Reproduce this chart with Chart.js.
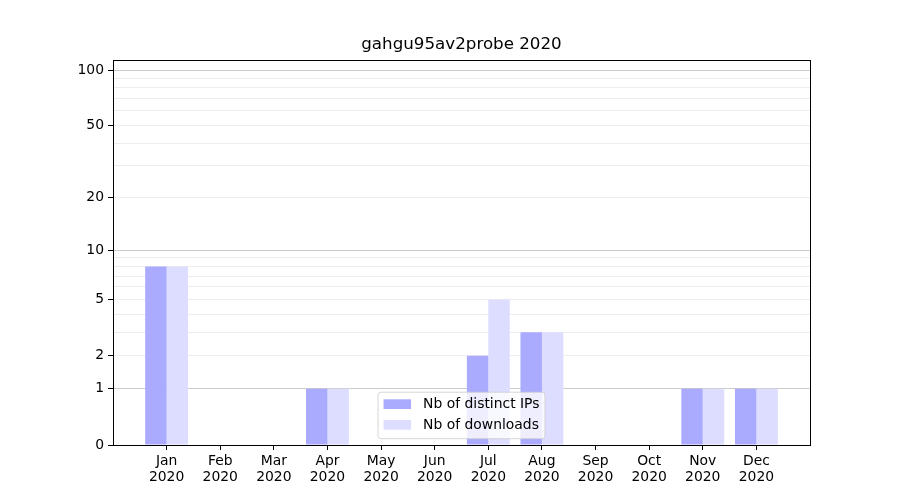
<!DOCTYPE html>
<html>
<head>
<meta charset="utf-8">
<script src="https://cdn.jsdelivr.net/npm/chart.js@4/dist/chart.umd.min.js"></script>
<style>
  html, body { margin: 0; padding: 0; background: #fff; }
  #wrap { width: 900px; height: 500px; }
</style>
</head>
<body>
<div id="wrap"><canvas id="c" width="900" height="500"></canvas></div>
<script>
// ---- data ----
const chartTitle = 'gahgu95av2probe 2020';
const months = ['Jan','Feb','Mar','Apr','May','Jun','Jul','Aug','Sep','Oct','Nov','Dec'];
const year = '2020';
const distinctIPs = [8, 0, 0, 1, 0, 0, 2, 3, 0, 0, 1, 1];
const downloads   = [8, 0, 0, 1, 0, 0, 5, 3, 0, 0, 1, 1];
const labeledTicks = [0, 1, 2, 5, 10, 20, 50, 100];
const majorGrid = [1, 10, 100];
const minorGrid = [2, 3, 4, 5, 6, 7, 8, 9, 20, 30, 40, 50, 60, 70, 80, 90];
const yMaxRaw = 113.2;

const tf = v => Math.log10(1 + v);
const allYTicks = [0].concat(majorGrid, minorGrid).sort((a, b) => a - b);

const FONT = 'DejaVu Sans';
Chart.defaults.color = '#000';
Chart.defaults.font.family = FONT;

const frame = {
  id: 'frame',
  afterDatasetsDraw(chart) {
    const a = chart.chartArea, ctx = chart.ctx;
    ctx.save();
    ctx.strokeStyle = '#000';
    ctx.lineWidth = 1;
    ctx.strokeRect(Math.round(a.left) + 0.5, Math.round(a.top) + 0.5,
                   Math.round(a.right - a.left), Math.round(a.bottom - a.top));
    ctx.restore();
  },
  afterDraw(chart) {
    const a = chart.chartArea, ctx = chart.ctx;
    const ds = chart.data.datasets;
    ctx.save();
    ctx.font = '13.9px "' + FONT + '"';
    let tw = 0;
    ds.forEach(d => { tw = Math.max(tw, ctx.measureText(d.label).width); });
    const w = 5.5 + 27.5 + 12 + tw + 5.5;
    const h = 46.5;
    const cx = (a.left + a.right) / 2;
    const x0 = cx - w / 2, y0 = a.bottom - 6.3 - h;
    const r = 3;
    ctx.beginPath();
    ctx.moveTo(x0 + r, y0);
    ctx.lineTo(x0 + w - r, y0);
    ctx.arcTo(x0 + w, y0, x0 + w, y0 + r, r);
    ctx.lineTo(x0 + w, y0 + h - r);
    ctx.arcTo(x0 + w, y0 + h, x0 + w - r, y0 + h, r);
    ctx.lineTo(x0 + r, y0 + h);
    ctx.arcTo(x0, y0 + h, x0, y0 + h - r, r);
    ctx.lineTo(x0, y0 + r);
    ctx.arcTo(x0, y0, x0 + r, y0, r);
    ctx.closePath();
    ctx.fillStyle = 'rgba(255,255,255,0.8)';
    ctx.fill();
    ctx.strokeStyle = 'rgba(204,204,204,0.8)';
    ctx.lineWidth = 1;
    ctx.stroke();
    ds.forEach((d, i) => {
      const cy = y0 + 12 + i * 20.7;
      ctx.fillStyle = d.backgroundColor;
      ctx.fillRect(x0 + 5.5, cy - 4.9, 27.5, 9.7);
      ctx.fillStyle = '#000';
      ctx.textBaseline = 'middle';
      ctx.textAlign = 'left';
      ctx.fillText(d.label, x0 + 45, cy);
    });
    ctx.restore();
  }
};

new Chart(document.getElementById('c'), {
  type: 'bar',
  data: {
    datasets: [
      { label: 'Nb of distinct IPs', backgroundColor: '#aaaaff', borderWidth: 0,
        data: distinctIPs.map((v, i) => ({ x: i, y: tf(v) })) },
      { label: 'Nb of downloads', backgroundColor: '#ddddff', borderWidth: 0,
        data: downloads.map((v, i) => ({ x: i, y: tf(v) })) }
    ]
  },
  options: {
    responsive: false,
    animation: false,
    layout: { padding: { left: 0, right: 90, top: 0, bottom: 0 } },
    datasets: { bar: { categoryPercentage: 0.8, barPercentage: 1.0 } },
    plugins: {
      legend: { display: false },
      tooltip: { enabled: false },
      title: {
        display: true, text: chartTitle, fullSize: false, color: '#000',
        font: { family: FONT, size: 16.7, weight: 'normal', lineHeight: 1.2 },
        padding: { top: 35, bottom: 5 }
      }
    },
    scales: {
      x: {
        type: 'linear', min: -1, max: 12, offset: false,
        afterBuildTicks: s => { s.ticks = months.map((m, i) => ({ value: i })); },
        afterFit: s => { s.height = 55; },
        grid: { offset: false, drawOnChartArea: false, tickLength: 5, tickColor: '#000' },
        border: { display: true, color: '#000', width: 1 },
        ticks: {
          autoSkip: false, maxRotation: 0, padding: 3, color: '#000',
          font: { family: FONT, size: 13.9, lineHeight: 1.15 },
          callback: v => [months[v], year]
        }
      },
      y: {
        type: 'linear', min: 0, max: tf(yMaxRaw), z: 1,
        afterBuildTicks: s => { s.ticks = allYTicks.map(v => ({ value: tf(v) })); },
        afterFit: s => { s.width = 113; },
        grid: {
          tickLength: 5,
          color: c => {
            const v = allYTicks[c.index];
            if (v === 0) return 'rgba(0,0,0,0)';
            return majorGrid.includes(v) ? 'rgba(0,0,0,0.2)' : 'rgba(0,0,0,0.07)';
          },
          tickColor: c => labeledTicks.includes(allYTicks[c.index]) ? '#000' : 'rgba(0,0,0,0)'
        },
        border: { display: true, color: '#000', width: 1 },
        ticks: {
          autoSkip: false, padding: 4, color: '#000',
          font: { family: FONT, size: 13.9 },
          callback: (v, i) => labeledTicks.includes(allYTicks[i]) ? String(allYTicks[i]) : ''
        }
      }
    }
  },
  plugins: [frame]
});
</script>
</body>
</html>
